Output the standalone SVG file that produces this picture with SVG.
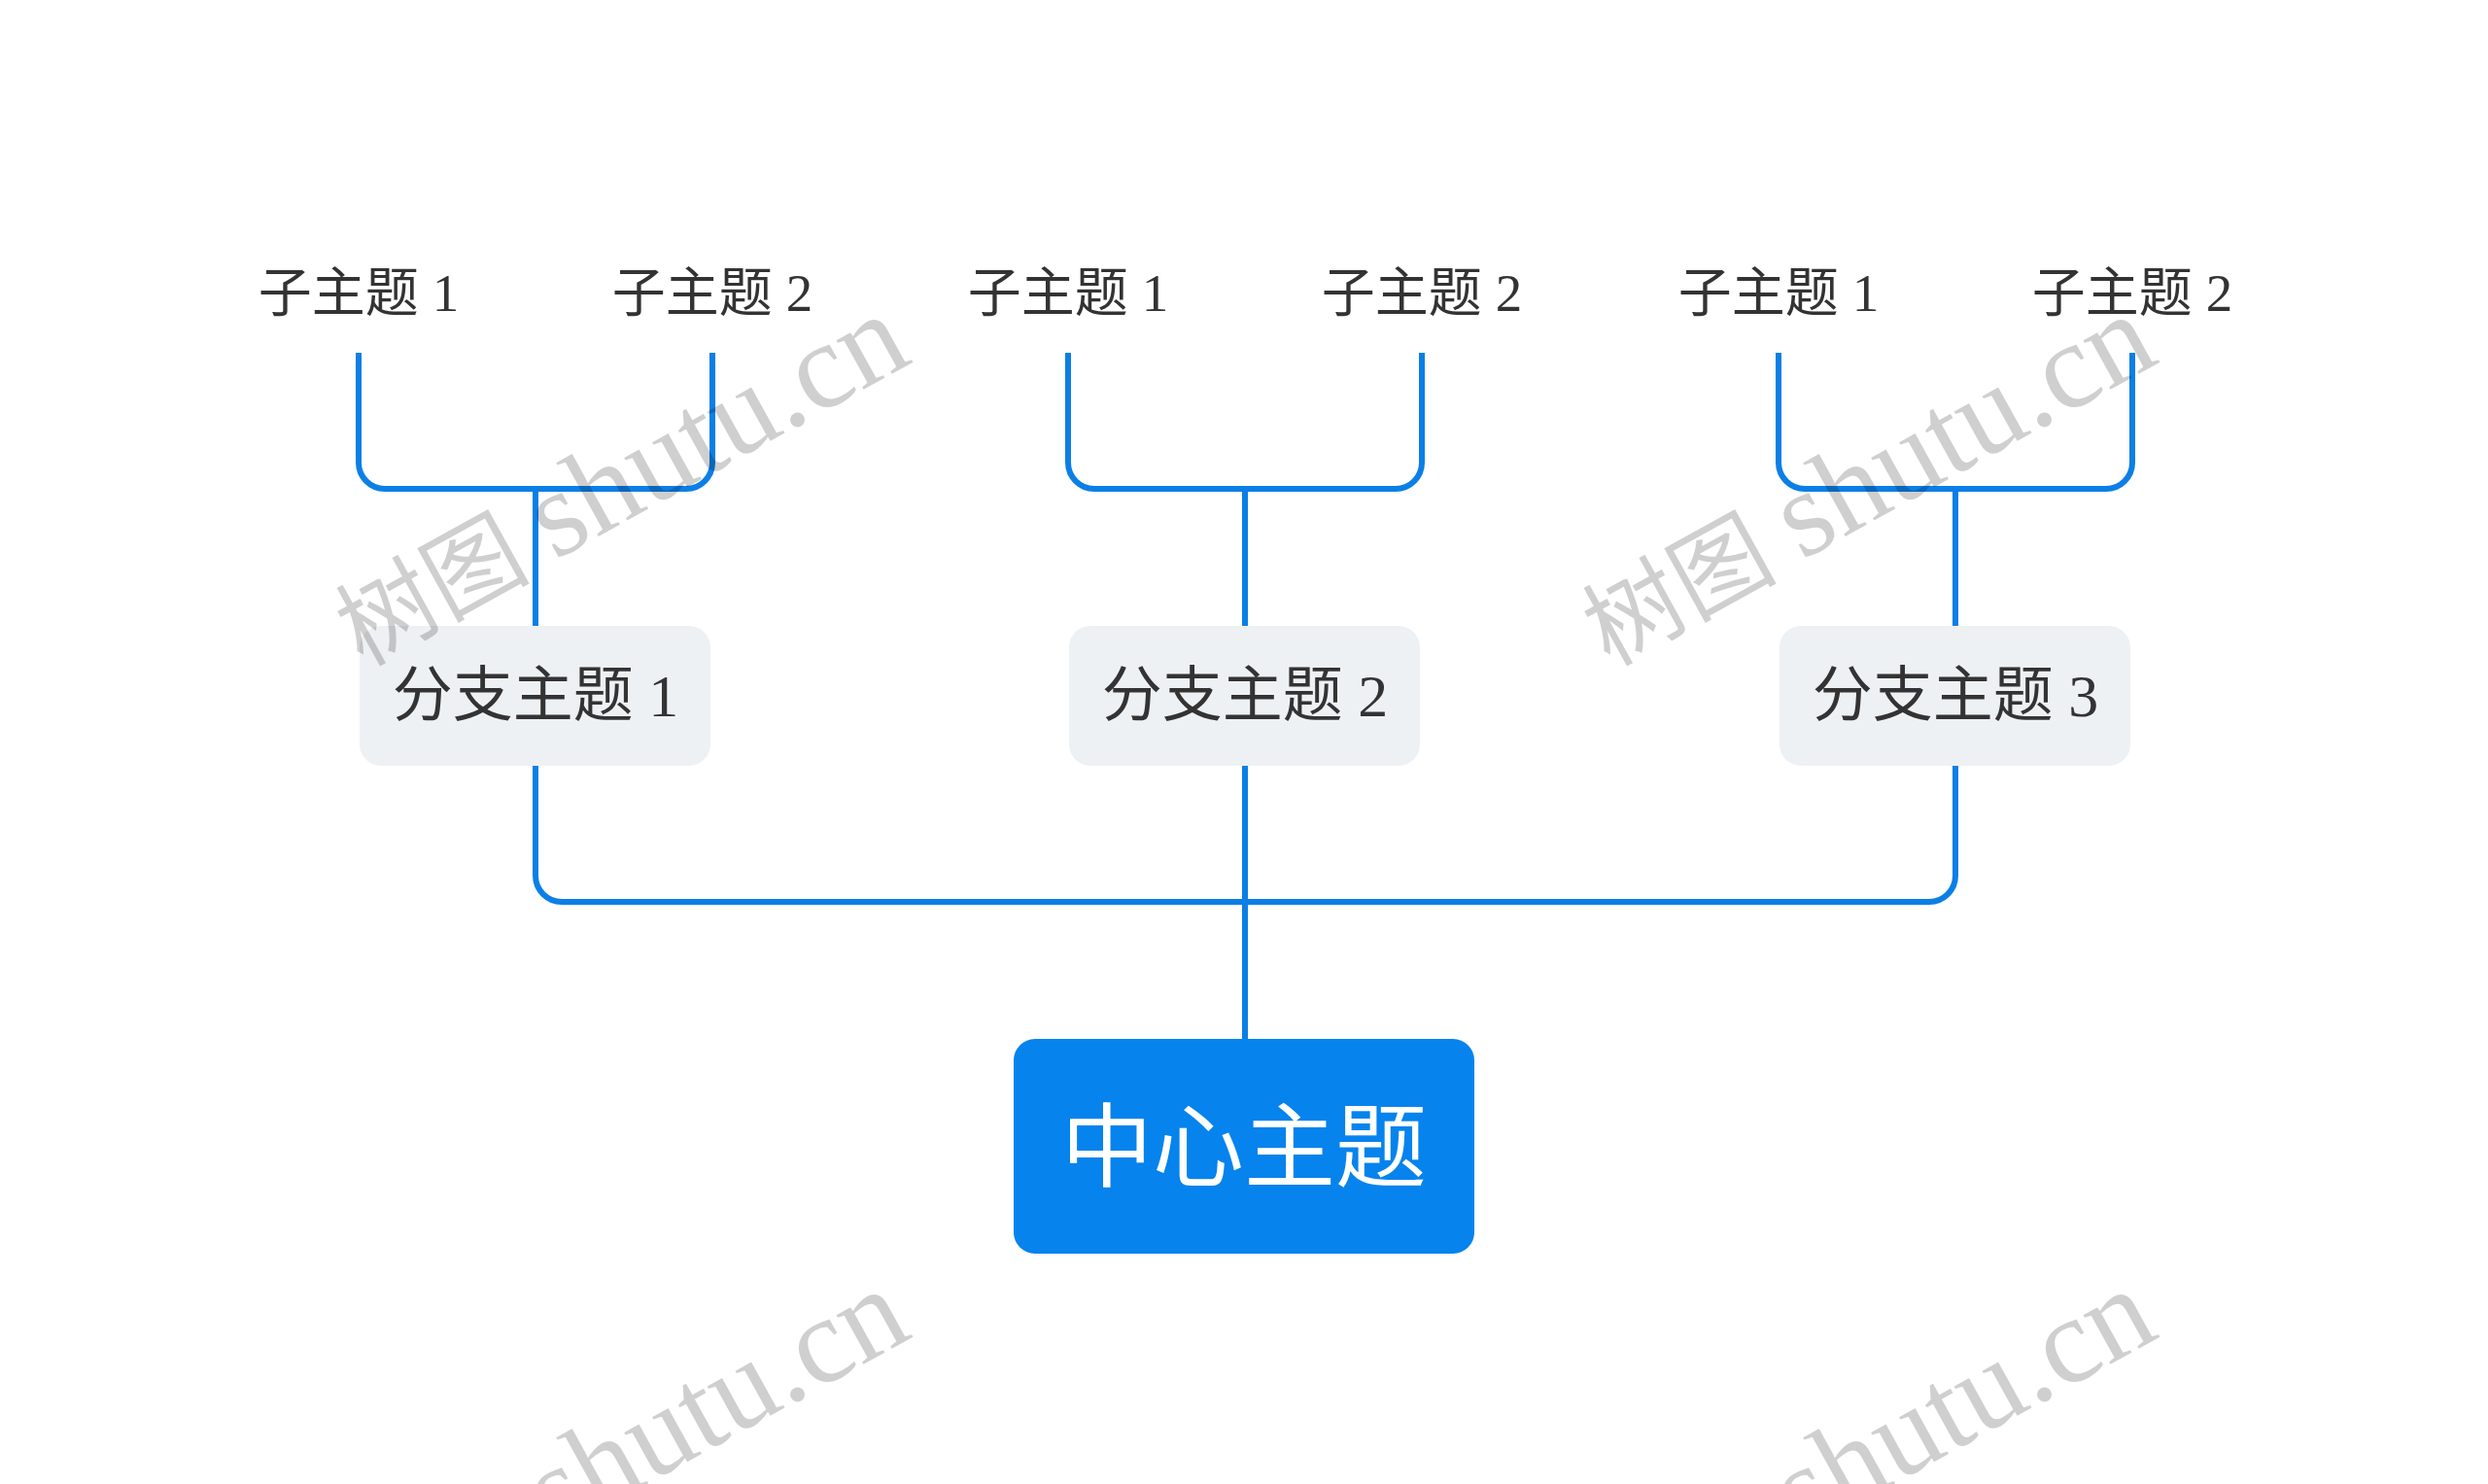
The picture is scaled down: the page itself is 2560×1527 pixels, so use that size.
<svg xmlns="http://www.w3.org/2000/svg" width="2560" height="1527" viewBox="0 0 2560 1527">
<style>
.conn{fill:none;stroke:#0b7fe6;stroke-width:6;stroke-linecap:butt}
.sub{font-family:"Noto Sans CJK SC","Liberation Sans",sans-serif;font-size:55px;fill:#333333;text-anchor:middle}
.br{font-family:"Noto Sans CJK SC","Liberation Sans",sans-serif;font-size:62px;fill:#333333;text-anchor:middle}
.num{font-family:"Liberation Serif","Noto Sans CJK SC",serif}
.brbox{fill:#eef1f4}
.root{fill:#0683ed}
.rt{font-family:"Noto Sans CJK SC","Liberation Sans",sans-serif;font-size:94px;fill:#ffffff;text-anchor:middle}
.wm{fill:#000000;fill-opacity:0.19}
.wmc{font-family:"Liberation Serif","Noto Sans CJK SC",serif;font-size:100px}
.wml{font-family:"Liberation Serif",serif;font-size:126px}
</style>
<defs>
<g id="wmark">
<text class="wm wmc" x="32" y="0">树图</text>
<text class="wm wml" x="258" y="0">shutu.cn</text>
</g>
</defs>
<rect x="0" y="0" width="2560" height="1527" fill="#ffffff"/>
<g id="connectors">
<path class="conn" d="M369,363 V476 A27,27 0 0 0 396,503 H706 A27,27 0 0 0 733,476 V363"/>
<path class="conn" d="M551,503 V644"/>
<path class="conn" d="M1099,363 V476 A27,27 0 0 0 1126,503 H1436 A27,27 0 0 0 1463,476 V363"/>
<path class="conn" d="M1281,503 V644"/>
<path class="conn" d="M1830,363 V476 A27,27 0 0 0 1857,503 H2167 A27,27 0 0 0 2194,476 V363"/>
<path class="conn" d="M2012,503 V644"/>
<path class="conn" d="M551,788 V901 A27,27 0 0 0 578,928 H1985 A27,27 0 0 0 2012,901 V788"/>
<path class="conn" d="M1281,788 V1069"/>
</g>
<g id="sub1-1"><text class="sub" x="369" y="320">子主题<tspan class="num"> 1</tspan></text></g>
<g id="sub1-2"><text class="sub" x="733" y="320">子主题<tspan class="num"> 2</tspan></text></g>
<g id="sub2-1"><text class="sub" x="1099" y="320">子主题<tspan class="num"> 1</tspan></text></g>
<g id="sub2-2"><text class="sub" x="1463" y="320">子主题<tspan class="num"> 2</tspan></text></g>
<g id="sub3-1"><text class="sub" x="1830" y="320">子主题<tspan class="num"> 1</tspan></text></g>
<g id="sub3-2"><text class="sub" x="2194" y="320">子主题<tspan class="num"> 2</tspan></text></g>
<g id="branch1"><rect class="brbox" x="370" y="644" width="361" height="144" rx="22"/><text class="br" x="551" y="737">分支主题<tspan class="num"> 1</tspan></text></g>
<g id="branch2"><rect class="brbox" x="1100" y="644" width="361" height="144" rx="22"/><text class="br" x="1281" y="737">分支主题<tspan class="num"> 2</tspan></text></g>
<g id="branch3"><rect class="brbox" x="1831" y="644" width="361" height="144" rx="22"/><text class="br" x="2012" y="737">分支主题<tspan class="num"> 3</tspan></text></g>
<g id="root"><rect class="root" x="1043" y="1069" width="474" height="221" rx="22"/><text class="rt" x="1280" y="1214">中心主题</text></g>
<g id="watermarks">
<use href="#wmark" transform="translate(345,702) rotate(-29)"/>
<use href="#wmark" transform="translate(1628,702) rotate(-29)"/>
<use href="#wmark" transform="translate(345,1705) rotate(-29)"/>
<use href="#wmark" transform="translate(1628,1705) rotate(-29)"/>
</g>
</svg>
